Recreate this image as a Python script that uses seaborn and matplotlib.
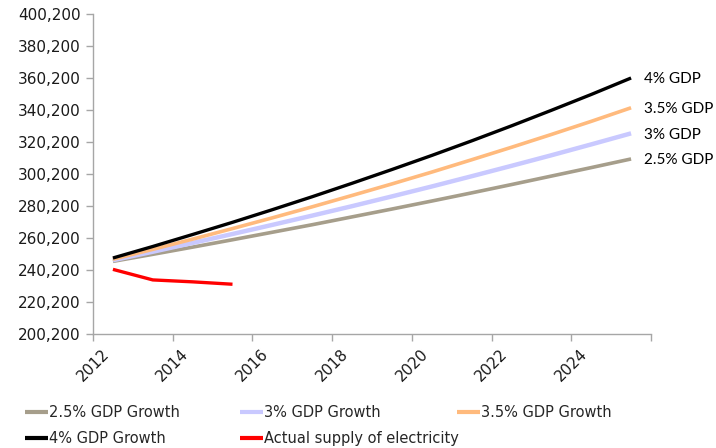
import matplotlib
matplotlib.use("Agg")
import matplotlib.pyplot as plt
import matplotlib.ticker as mticker
import numpy as np
import pandas as pd
import seaborn as sns

# Projected electricity demand under different GDP growth scenarios (GWh)
years = [2012, 2013, 2014, 2015, 2016, 2017, 2018, 2019, 2020, 2021, 2022, 2023, 2024, 2025]
gdp_25 = [245600, 250000, 254500, 259100, 263800, 268500, 273400, 278300, 283300, 288400, 293600, 298900, 304200, 309600]
gdp_30 = [246300, 251600, 257100, 262700, 268400, 274200, 280100, 286200, 292400, 298800, 305300, 311900, 318700, 325600]
gdp_35 = [246900, 253100, 259500, 266100, 272800, 279700, 286800, 294000, 301400, 309100, 316900, 324900, 333100, 341600]
gdp_40 = [247700, 254900, 262400, 270000, 277900, 286000, 294400, 303000, 311800, 320900, 330300, 340000, 349900, 360200]

actual_years = [2012, 2013, 2014, 2015]
actual_supply = [240600, 234000, 232800, 231300]

series_names = ["2.5% GDP Growth", "3% GDP Growth", "3.5% GDP Growth", "4% GDP Growth"]
end_labels = ["2.5% GDP", "3% GDP", "3.5% GDP", "4% GDP"]
actual_name = "Actual supply of electricity"
colors = {
    "2.5% GDP Growth": "#A69E8B",
    "3% GDP Growth": "#C9C9FF",
    "3.5% GDP Growth": "#FFBA7D",
    "4% GDP Growth": "#000000",
    actual_name: "#FF0000",
}
widths = {
    "2.5% GDP Growth": 2.6,
    "3% GDP Growth": 3.2,
    "3.5% GDP Growth": 2.6,
    "4% GDP Growth": 2.4,
    actual_name: 2.4,
}

frames = []
for name, vals in zip(series_names, [gdp_25, gdp_30, gdp_35, gdp_40]):
    frames.append(pd.DataFrame({"year": years, "value": vals, "series": name}))
frames.append(pd.DataFrame({"year": actual_years, "value": actual_supply, "series": actual_name}))
df = pd.concat(frames, ignore_index=True)
# Each year is plotted in the middle of its category slot
df["x"] = df["year"] + 0.5

sns.set_style("white")
plt.rcParams["font.family"] = ["DejaVu Sans"]

fig = plt.figure(figsize=(7.16, 4.48), dpi=100)
ax = fig.add_axes([93 / 716, (448 - 334) / 448, 558 / 716, 320 / 448])

for name in series_names + [actual_name]:
    sub = df[df["series"] == name]
    sns.lineplot(data=sub, x="x", y="value", ax=ax, color=colors[name],
                 linewidth=widths[name], label=name, legend=False,
                 solid_capstyle="butt")

# End-of-line scenario labels
for name, lab in zip(series_names, end_labels):
    sub = df[df["series"] == name]
    ax.annotate(lab, xy=(sub["x"].iloc[-1], sub["value"].iloc[-1]),
                xytext=(9, -1), textcoords="offset points",
                va="center", ha="left", fontsize=11, family="Lato",
                color="#000000", annotation_clip=False)

ax.set_xlim(2012, 2026)
ax.set_ylim(200200, 400200)
ax.set_xticks(np.arange(2012, 2027, 2))
ax.set_xticklabels([str(y) if y < 2026 else "" for y in range(2012, 2027, 2)],
                   rotation=45, ha="center", fontsize=11)
ax.set_yticks(np.arange(200200, 400201, 20000))
ax.yaxis.set_major_formatter(mticker.FuncFormatter(lambda v, p: f"{int(round(v)):,}"))
ax.tick_params(axis="y", labelsize=11)
ax.set_xlabel("")
ax.set_ylabel("")

for side in ["top", "right"]:
    ax.spines[side].set_visible(False)
for side in ["left", "bottom"]:
    ax.spines[side].set_color("#A6A6A6")
    ax.spines[side].set_linewidth(1.0)
ax.tick_params(axis="both", which="major", direction="out", length=5,
               width=1.0, color="#A6A6A6", left=True, bottom=True,
               labelcolor="#1a1a1a", pad=4)

# Legend below the plot: three equal-width columns, filled row by row
handles, labels = ax.get_legend_handles_labels()
lookup = dict(zip(labels, handles))
columns = [
    (["2.5% GDP Growth", "4% GDP Growth"], 25),
    (["3% GDP Growth", actual_name], 240),
    (["3.5% GDP Growth"], 457),
]
for names, x0 in columns:
    leg = fig.legend([lookup[n] for n in names], names, ncol=1, frameon=False,
                     loc="upper left", bbox_to_anchor=(x0 / 716, 1 - 405 / 448),
                     fontsize=10.5, handlelength=1.55, handletextpad=0.1,
                     labelspacing=0.75, borderaxespad=0, borderpad=0)
    for line in leg.get_lines():
        line.set_linewidth(3)

fig.savefig("out.png", dpi=100)
